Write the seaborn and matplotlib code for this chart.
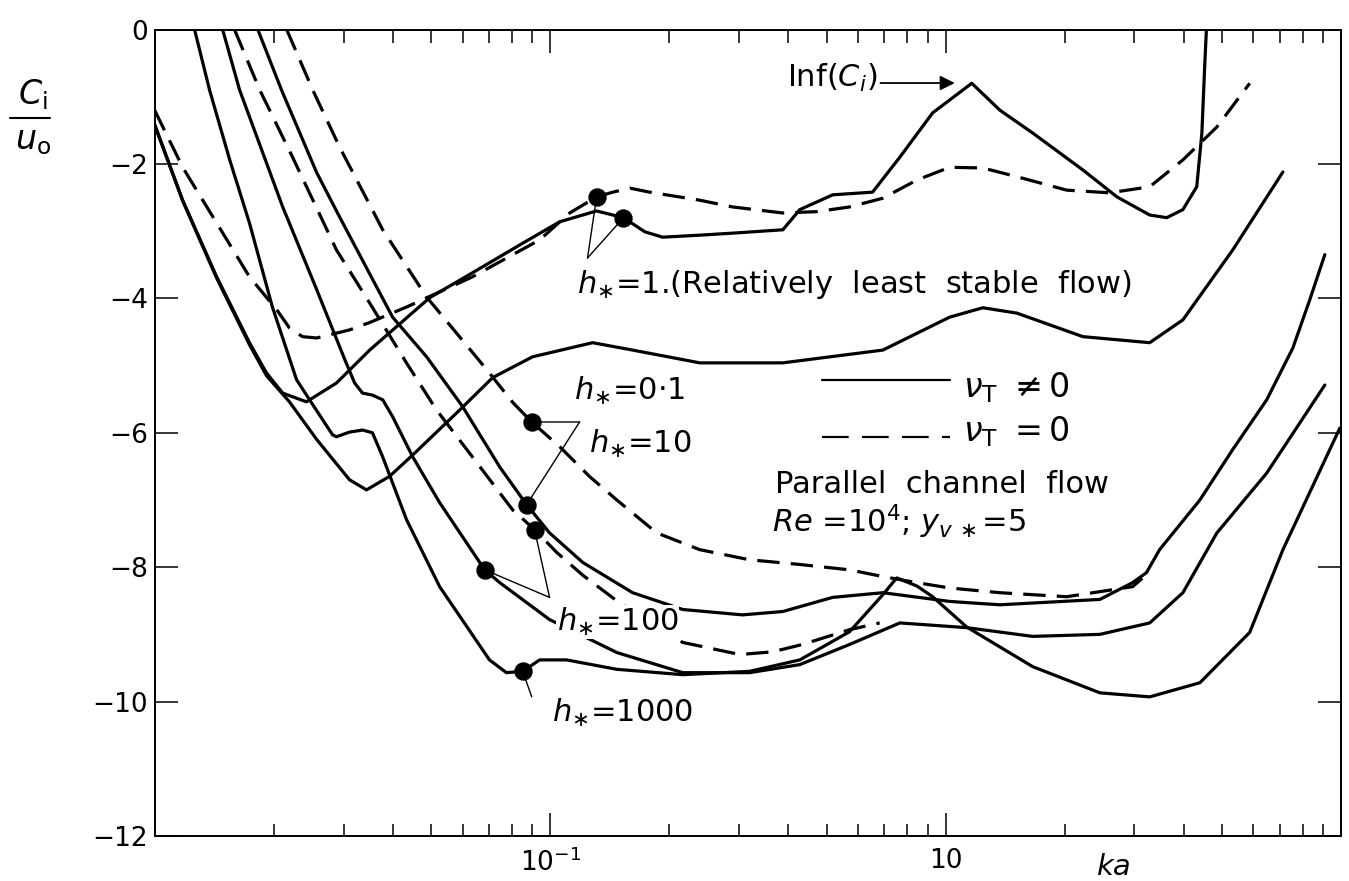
import numpy as np
import pandas as pd
import matplotlib

matplotlib.use("Agg")
import matplotlib.pyplot as plt
import seaborn as sns
from matplotlib.lines import Line2D
from matplotlib.ticker import LogLocator, NullFormatter

# values: log10(ka) and Ci/u0 along each curve
h1_solid_logka = [-2.001, -1.930, -1.844, -1.761, -1.718, -1.677, -1.617, -1.541, -1.457, -1.305,
                  -1.197, -1.070, -0.976, -0.883, -0.815, -0.761, -0.716, -0.622, -0.539, -0.412,
                  -0.369, -0.286, -0.185, -0.116, -0.033, 0.066, 0.137, 0.220, 0.347, 0.433,
                  0.516, 0.559, 0.600, 0.635, 0.648, 0.655, 0.660]
h1_solid_ci = [-1.41, -2.54, -3.68, -4.66, -5.11, -5.41, -5.54, -5.26, -4.77, -3.99,
               -3.62, -3.18, -2.86, -2.70, -2.80, -3.01, -3.09, -3.06, -3.03, -2.98,
               -2.68, -2.46, -2.42, -1.90, -1.24, -0.80, -1.20, -1.54, -2.09, -2.49,
               -2.76, -2.80, -2.68, -2.34, -1.54, -0.56, 0.07]

h01_solid_logka = [-2.001, -1.930, -1.844, -1.761, -1.718, -1.660, -1.591, -1.508, -1.465, -1.407,
                   -1.348, -1.229, -1.146, -1.045, -0.893, -0.792, -0.622, -0.412, -0.159, 0.010,
                   0.094, 0.180, 0.347, 0.516, 0.600, 0.726, 0.853]
h01_solid_ci = [-1.42, -2.55, -3.70, -4.69, -5.15, -5.54, -6.10, -6.70, -6.85, -6.65,
                -6.33, -5.66, -5.18, -4.87, -4.66, -4.77, -4.96, -4.96, -4.77, -4.28,
                -4.14, -4.22, -4.57, -4.66, -4.32, -3.28, -2.12]

h10_solid_logka = [-1.740, -1.680, -1.591, -1.533, -1.399, -1.313, -1.222, -1.197, -1.128, -1.060,
                   -1.002, -0.918, -0.792, -0.665, -0.514, -0.412, -0.286, -0.159, 0.010, 0.137,
                   0.390, 0.473, 0.508, 0.541, 0.643, 0.726, 0.812, 0.878, 0.921, 0.959]
h10_solid_ci = [0.0, -0.90, -2.13, -2.79, -4.28, -4.87, -5.61, -5.85, -6.51, -7.07,
                -7.49, -7.93, -8.38, -8.63, -8.71, -8.66, -8.45, -8.38, -8.51, -8.56,
                -8.48, -8.23, -8.08, -7.74, -7.00, -6.25, -5.51, -4.74, -4.02, -3.35]

h100_solid_logka = [-1.829, -1.786, -1.677, -1.591, -1.520, -1.495, -1.475, -1.450, -1.424, -1.399,
                    -1.348, -1.280, -1.166, -1.128, -1.002, -0.832, -0.665, -0.496, -0.369, -0.243,
                    -0.116, 0.053, 0.220, 0.390, 0.516, 0.600, 0.686, 0.812, 0.959]
h100_solid_ci = [0.0, -0.90, -2.64, -3.87, -4.91, -5.26, -5.41, -5.44, -5.51, -5.76,
                 -6.36, -7.04, -8.04, -8.23, -8.78, -9.27, -9.57, -9.57, -9.45, -9.15,
                 -8.83, -8.90, -9.03, -9.00, -8.83, -8.38, -7.49, -6.60, -5.29]

h1000_solid_logka = [-1.900, -1.862, -1.811, -1.761, -1.703, -1.642, -1.609, -1.551, -1.541, -1.508,
                     -1.475, -1.450, -1.424, -1.364, -1.280, -1.154, -1.111, -1.070, -1.027, -0.959,
                     -0.832, -0.665, -0.496, -0.369, -0.243, -0.159, -0.124, -0.073, -0.033, 0.053,
                     0.220, 0.390, 0.516, 0.643, 0.769, 0.853, 0.997]
h1000_solid_ci = [0.0, -0.90, -1.94, -2.88, -4.13, -5.21, -5.51, -6.03, -6.06, -5.99,
                  -5.96, -6.00, -6.36, -7.29, -8.29, -9.38, -9.57, -9.55, -9.38, -9.38,
                  -9.52, -9.60, -9.55, -9.38, -8.96, -8.41, -8.16, -8.28, -8.44, -8.89,
                  -9.48, -9.87, -9.93, -9.72, -8.97, -7.74, -5.93]

h1_dashed_logka = [-2.001, -1.930, -1.844, -1.761, -1.692, -1.660, -1.627, -1.591, -1.508, -1.457,
                   -1.364, -1.197, -1.027, -0.951, -0.883, -0.842, -0.799, -0.749, -0.622, -0.539,
                   -0.412, -0.326, -0.243, -0.159, -0.073, 0.010, 0.094, 0.180, 0.306, 0.415,
                   0.516, 0.600, 0.686, 0.769]
h1_dashed_ci = [-1.20, -2.05, -2.88, -3.68, -4.17, -4.44, -4.57, -4.59, -4.47, -4.36,
                -4.13, -3.68, -3.13, -2.73, -2.49, -2.42, -2.36, -2.42, -2.54, -2.64,
                -2.73, -2.71, -2.64, -2.51, -2.24, -2.05, -2.06, -2.19, -2.39, -2.43,
                -2.34, -1.94, -1.45, -0.80]

h01_dashed_logka = [-1.667, -1.601, -1.533, -1.424, -1.313, -1.161, -1.095, -1.047, -0.976, -0.901,
                    -0.832, -0.731, -0.622, -0.496, -0.369, -0.243, -0.159, -0.073, 0.010, 0.137,
                    0.306, 0.473, 0.508]
h01_dashed_ci = [0.0, -0.90, -1.75, -2.98, -3.98, -5.06, -5.55, -5.84, -6.21, -6.65,
                 -7.00, -7.49, -7.74, -7.89, -7.96, -8.04, -8.14, -8.23, -8.31, -8.38,
                 -8.44, -8.29, -8.11]

h100_dashed_logka = [-1.799, -1.735, -1.652, -1.541, -1.457, -1.364, -1.288, -1.197, -1.095, -1.040,
                     -0.984, -0.918, -0.832, -0.749, -0.665, -0.521, -0.438, -0.362, -0.243, -0.167]
h100_dashed_ci = [0.0, -0.90, -1.90, -3.28, -4.07, -4.96, -5.66, -6.36, -7.15, -7.44,
                  -7.78, -8.12, -8.50, -8.84, -9.12, -9.30, -9.26, -9.15, -8.93, -8.83]

# labelled points (filled dots)
dot_logka = [-0.883, -0.815, -1.047, -1.060, -1.040, -1.166, -1.070]
dot_ci = [-2.49, -2.80, -5.84, -7.07, -7.44, -8.04, -9.55]

y_ticks = [0, -2, -4, -6, -8, -10, -12]

curves = [
    ("h1", h1_solid_logka, h1_solid_ci, "solid"),
    ("h01", h01_solid_logka, h01_solid_ci, "solid"),
    ("h10", h10_solid_logka, h10_solid_ci, "solid"),
    ("h100", h100_solid_logka, h100_solid_ci, "solid"),
    ("h1000", h1000_solid_logka, h1000_solid_ci, "solid"),
    ("h1d", h1_dashed_logka, h1_dashed_ci, "dashed"),
    ("h01d", h01_dashed_logka, h01_dashed_ci, "dashed"),
    ("h100d", h100_dashed_logka, h100_dashed_ci, "dashed"),
]
frames = []
for name, lk, ci, kind in curves:
    frames.append(pd.DataFrame({"ka": 10 ** np.array(lk), "ci": ci, "curve": name, "nu": kind}))
df = pd.concat(frames, ignore_index=True)
dots = pd.DataFrame({"ka": 10 ** np.array(dot_logka), "ci": dot_ci})

sns.set_theme(style="ticks")
plt.rcParams["font.family"] = ["DejaVu Sans"]
plt.rcParams["mathtext.fontset"] = "dejavusans"
plt.rcParams["text.color"] = "black"

fig = plt.figure(figsize=(13.49, 8.81), dpi=100)
ax = fig.add_axes([0.1149, 0.0511, 0.8792, 0.9154])
ax.set_xscale("log")

sns.lineplot(data=df, x="ka", y="ci", units="curve", style="nu", estimator=None, sort=False,
             color="black", lw=2.3, dashes={"solid": "", "dashed": (7, 3.5)}, legend=False, ax=ax)
sns.scatterplot(data=dots, x="ka", y="ci", color="black", s=150, edgecolor="black", zorder=5,
                legend=False, ax=ax)

ax.set_xlim(0.01, 10)
ax.set_ylim(-12, 0)
ax.set_xticks([0.1, 1])
ax.set_xticklabels([r"$10^{-1}$", "10"])
ax.xaxis.set_minor_locator(LogLocator(base=10, subs=range(2, 10)))
ax.xaxis.set_minor_formatter(NullFormatter())
ax.set_yticks(y_ticks)
ax.set_xlabel("")
ax.set_ylabel("")
ax.tick_params(which="major", direction="in", top=True, right=True, length=16.5, width=1.1,
               labelsize=19, colors="black")
ax.tick_params(axis="x", which="major", pad=9)
ax.tick_params(axis="y", which="major", pad=5)
ax.tick_params(which="minor", direction="in", top=True, length=9, width=1.1, colors="black")
for sp in ax.spines.values():
    sp.set_linewidth(1.4)
    sp.set_color("black")


def X(v):
    return 10 ** v


fs = 22
# leader lines from labels to the dots
leaders = [((-0.906, -3.40), [0, 1]), ((-0.926, -5.84), [2, 3]), ((-1.002, -8.45), [4, 5])]
for (vx, vy), idx in leaders:
    for i in idx:
        ax.annotate("", xy=(X(dot_logka[i]), dot_ci[i]), xytext=(X(vx), vy),
                    arrowprops=dict(arrowstyle="-", lw=1.0, color="black", shrinkA=0, shrinkB=0))
ax.annotate("", xy=(X(dot_logka[6]), dot_ci[6]), xytext=(X(-1.047), -9.93),
            arrowprops=dict(arrowstyle="-", lw=1.0, color="black", shrinkA=0, shrinkB=0))

ax.text(X(-0.933), -3.92, r"$h_{\ast}$=1.(Relatively  least  stable  flow)", fontsize=fs, va="baseline")
ax.text(X(-0.939), -5.51, r"$h_{\ast}$=0$\cdot$1", fontsize=fs, va="baseline")
ax.text(X(-0.901), -6.30, r"$h_{\ast}$=10", fontsize=fs, va="baseline")
ax.text(X(-0.984), -8.95, r"$h_{\ast}$=100", fontsize=fs, va="baseline", zorder=4,
        bbox=dict(facecolor="white", edgecolor="none", pad=0.5))
ax.text(X(-0.997), -10.30, r"$h_{\ast}$=1000", fontsize=fs, va="baseline")

ax.text(X(-0.172), -0.72, r"Inf($C_i$)", fontsize=fs, ha="right", va="center")
ax.annotate("", xy=(X(0.023), -0.796), xytext=(X(-0.165), -0.796),
            arrowprops=dict(arrowstyle="-|>", lw=1.3, color="black", mutation_scale=22,
                            shrinkA=0, shrinkB=0))

# key
ax.plot([X(-0.314), X(0.010)], [-5.21, -5.21], color="black", lw=1.6)
ax.plot([X(-0.314), X(0.010)], [-6.06, -6.06], color="black", lw=1.6, dashes=(12, 6))
ax.text(X(0.043), -5.47, r"$\nu_{\mathrm{T}}\ \neq 0$", fontsize=fs + 2, va="baseline")
ax.text(X(0.043), -6.13, r"$\nu_{\mathrm{T}}\ = 0$", fontsize=fs + 2, va="baseline")
ax.text(X(-0.433), -6.89, "Parallel  channel  flow", fontsize=fs, va="baseline")
ax.text(X(-0.440), -7.49, r"$Re$ =10$^4$; $y_{v\,\ast}$=5", fontsize=fs, va="baseline")

fig.text(0.8258, 0.016, "ka", fontsize=21, style="italic", ha="center", va="center")
fig.text(0.0245, 0.893, r"$C_{\mathrm{i}}$", fontsize=24, ha="center", va="center")
fig.text(0.0245, 0.840, r"$u_{\mathrm{o}}$", fontsize=24, ha="center", va="center")
fig.add_artist(Line2D([0.0074, 0.037], [0.866, 0.866], transform=fig.transFigure, lw=1.5,
                      color="black"))

fig.savefig("out.png", dpi=100)
